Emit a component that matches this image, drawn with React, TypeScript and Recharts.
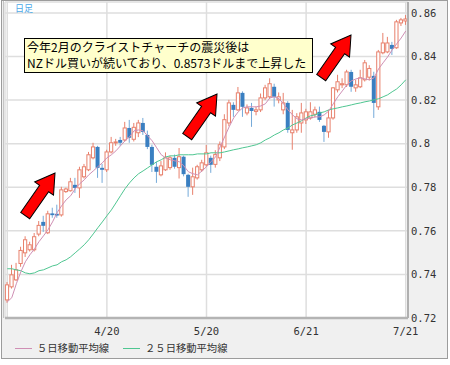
import { Bar, CartesianGrid, ComposedChart, Line, XAxis, YAxis } from "recharts";

// NZD/USD daily candles, 3/21 .. 7/21
const opens = [
  0.7283, 0.7343, 0.7375, 0.745, 0.7499, 0.7513, 0.7513, 0.7585, 0.7641, 0.7591,
  0.768, 0.7678, 0.7673, 0.778, 0.7784, 0.7811, 0.7797, 0.7848, 0.788, 0.7935,
  0.7985, 0.7889, 0.788, 0.7962, 0.8004, 0.8017, 0.8017, 0.8072, 0.802, 0.805,
  0.8095, 0.804, 0.7985, 0.7894, 0.7857, 0.788, 0.789, 0.7935, 0.789, 0.794,
  0.7857, 0.7802, 0.7843, 0.788, 0.7903, 0.7935, 0.7905, 0.7935, 0.7985, 0.8095,
  0.8178, 0.8155, 0.8233, 0.8141, 0.8164, 0.8148, 0.8155, 0.821, 0.8215, 0.8261,
  0.8201, 0.8155, 0.8187, 0.805, 0.8063, 0.8095, 0.8109, 0.8118, 0.8135, 0.8146,
  0.8082, 0.8054, 0.8118, 0.8247, 0.827, 0.827, 0.8329, 0.8256, 0.8261, 0.8293,
  0.8305, 0.8311, 0.8169, 0.8417, 0.8421, 0.8453, 0.844, 0.8554, 0.8563,
];
const highs = [
  0.7365, 0.7444, 0.7453, 0.7527, 0.7575, 0.755, 0.759, 0.7645, 0.7669, 0.7692,
  0.7706, 0.772, 0.7802, 0.7798, 0.7843, 0.7843, 0.7894, 0.7907, 0.7962, 0.8004,
  0.799, 0.7907, 0.7972, 0.8031, 0.8022, 0.8031, 0.81, 0.8109, 0.8095, 0.8109,
  0.8118, 0.806, 0.7995, 0.7917, 0.792, 0.796, 0.7945, 0.795, 0.798, 0.7945,
  0.7862, 0.789, 0.7903, 0.7926, 0.7994, 0.7945, 0.797, 0.801, 0.8135, 0.8201,
  0.819, 0.826, 0.824, 0.818, 0.8187, 0.817, 0.823, 0.827, 0.83, 0.8275,
  0.8235, 0.8233, 0.8195, 0.8155, 0.814, 0.8187, 0.816, 0.819, 0.817, 0.817,
  0.8086, 0.8155, 0.826, 0.8316, 0.83, 0.8339, 0.8339, 0.8293, 0.8339, 0.8384,
  0.836, 0.833, 0.843, 0.8508, 0.849, 0.8467, 0.8568, 0.8577, 0.859,
];
const lows = [
  0.727, 0.7335, 0.737, 0.7435, 0.748, 0.7505, 0.7505, 0.7575, 0.7595, 0.7585,
  0.766, 0.766, 0.7665, 0.7774, 0.778, 0.7774, 0.7751, 0.784, 0.7874, 0.7928,
  0.7843, 0.782, 0.787, 0.7955, 0.799, 0.799, 0.801, 0.8004, 0.801, 0.803,
  0.804, 0.7975, 0.787, 0.782, 0.785, 0.7875, 0.788, 0.7885, 0.784, 0.785,
  0.7756, 0.7765, 0.7835, 0.787, 0.7895, 0.7866, 0.789, 0.792, 0.7975, 0.808,
  0.8123, 0.815, 0.8123, 0.813, 0.8077, 0.813, 0.8145, 0.82, 0.8205, 0.817,
  0.8185, 0.8135, 0.805, 0.7972, 0.805, 0.805, 0.809, 0.811, 0.812, 0.81,
  0.8008, 0.8027, 0.811, 0.8235, 0.8255, 0.826, 0.8238, 0.8238, 0.8255, 0.8285,
  0.829, 0.8118, 0.8155, 0.841, 0.8415, 0.8407, 0.8435, 0.854, 0.8545,
];
const closes = [
  0.7352, 0.7398, 0.7421, 0.751, 0.7559, 0.7536, 0.7573, 0.7625, 0.7623, 0.7678,
  0.7672, 0.767, 0.7788, 0.7792, 0.7825, 0.7797, 0.788, 0.7894, 0.7949, 0.7985,
  0.7889, 0.788, 0.7962, 0.8004, 0.8008, 0.8004, 0.8072, 0.8027, 0.8075, 0.8095,
  0.8054, 0.7985, 0.7903, 0.7871, 0.7898, 0.7935, 0.7935, 0.7894, 0.794, 0.786,
  0.7802, 0.7848, 0.7894, 0.7912, 0.7958, 0.7903, 0.795, 0.7995, 0.811, 0.8187,
  0.8155, 0.8233, 0.8169, 0.8164, 0.815, 0.8155, 0.821, 0.8256, 0.8275, 0.8215,
  0.8215, 0.8187, 0.8063, 0.8063, 0.8123, 0.8141, 0.8146, 0.8146, 0.8155, 0.8109,
  0.8054, 0.8118, 0.8256, 0.8284, 0.8275, 0.8329, 0.8261, 0.827, 0.8302, 0.8371,
  0.8345, 0.8187, 0.8421, 0.8462, 0.8462, 0.8435, 0.8559, 0.8568, 0.8572,
];
const ma5 = [
  0.7274, 0.7293, 0.7357, 0.7412, 0.7458, 0.749, 0.7517, 0.755, 0.7577, 0.7605,
  0.7641, 0.7683, 0.7715, 0.7742, 0.7761, 0.7793, 0.7816, 0.7834, 0.7857, 0.7875,
  0.7894, 0.7912, 0.7935, 0.7949, 0.7967, 0.799, 0.8013, 0.8031, 0.8059, 0.8063,
  0.8059, 0.8036, 0.8013, 0.7981, 0.7949, 0.7935, 0.7926, 0.7921, 0.7917, 0.7898,
  0.7871, 0.7862, 0.7857, 0.7875, 0.7894, 0.7917, 0.7939, 0.7985, 0.8031, 0.8077,
  0.8118, 0.8146, 0.8164, 0.8169, 0.8169, 0.8169, 0.8173, 0.8183, 0.821, 0.8215,
  0.8206, 0.8183, 0.8155, 0.8132, 0.8114, 0.8109, 0.8114, 0.8118, 0.8123, 0.8123,
  0.8132, 0.815, 0.8183, 0.8215, 0.8242, 0.827, 0.8288, 0.8297, 0.8302, 0.8297,
  0.8293, 0.8302, 0.8343, 0.8371, 0.8398, 0.843, 0.8458, 0.8485, 0.8517,
];
const ma25 = [
  0.7426, 0.7426, 0.7421, 0.7417, 0.7407, 0.7403, 0.7407, 0.7417, 0.7421, 0.743,
  0.7439, 0.7444, 0.7458, 0.7467, 0.7481, 0.7499, 0.7517, 0.7536, 0.7559, 0.7586,
  0.7614, 0.7641, 0.7669, 0.7696, 0.7728, 0.7761, 0.7793, 0.782, 0.7843, 0.7862,
  0.7875, 0.7889, 0.7903, 0.7917, 0.7926, 0.7939, 0.7944, 0.7944, 0.7949, 0.7949,
  0.7949, 0.7949, 0.7953, 0.7953, 0.7953, 0.7958, 0.7958, 0.7958, 0.7962, 0.7967,
  0.7972, 0.7976, 0.7981, 0.7985, 0.799, 0.7995, 0.8004, 0.8017, 0.8027, 0.804,
  0.805, 0.8063, 0.8072, 0.8086, 0.8095, 0.8105, 0.8118, 0.8128, 0.8132, 0.8141,
  0.8146, 0.8155, 0.816, 0.8164, 0.8169, 0.8173, 0.8178, 0.8183, 0.8187, 0.8192,
  0.8196, 0.8201, 0.8206, 0.8215, 0.8224, 0.8238, 0.8251, 0.827, 0.8293,
];

const xTicks = [0, 22, 44, 66, 88];
const xTickLabels = ["", "4/20", "5/20", "6/21", "7/21"];
const yTicks = [0.72, 0.74, 0.76, 0.78, 0.8, 0.82, 0.84, 0.86];
const seriesNames = ["５日移動平均線", "２５日移動平均線"];
const seriesColors = ["#cf8fb4", "#4fc691"];

const rows = opens.map((o, i) => ({
  i,
  open: o,
  high: highs[i],
  low: lows[i],
  close: closes[i],
  range: [lows[i], highs[i]],
  ma5: ma5[i],
  ma25: ma25[i],
}));

const UP = "#e8806c";
const DOWN = "#3a7fc1";
const DOWN_WICK = "#75aad9";
const CJK = '"Noto Sans CJK JP", "Noto Sans", sans-serif';
const MONO = '"DejaVu Sans Mono", monospace';

function Candle(props: any) {
  const { x, y, width, height, payload } = props;
  if (x == null || y == null) return null;
  const { open, close, high, low } = payload;
  const top = Math.min(y, y + height);
  const span = Math.abs(height);
  const toY = (v: number) => top + ((high - v) / (high - low || 1)) * span;
  const cx = x + width / 2;
  const up = close >= open;
  const yo = toY(open);
  const yc = toY(close);
  const bTop = Math.min(yo, yc);
  const bH = Math.max(Math.abs(yo - yc), 1);
  if (up) {
    return (
      <g>
        <line x1={cx} x2={cx} y1={top} y2={top + span} stroke={UP} strokeWidth={1} />
        <rect x={cx - 1.6} y={bTop} width={3.2} height={bH} fill="#fff" stroke={UP} strokeWidth={1} />
      </g>
    );
  }
  return (
    <g>
      <line x1={cx} x2={cx} y1={top} y2={top + span} stroke={DOWN_WICK} strokeWidth={1} />
      <rect x={cx - 2} y={bTop} width={4} height={bH} fill={DOWN} />
    </g>
  );
}

const arrowTips = [
  { x: 55, y: 173 },
  { x: 217, y: 94 },
  { x: 351, y: 35 },
];

function Arrow({ x, y }: { x: number; y: number }) {
  const L = 52, hl = 19, h = 11.5, w = 5.5;
  const pts = [
    [0, -w], [L - hl, -w], [L - hl, -h], [L, 0], [L - hl, h], [L - hl, w], [0, w],
  ].map((p) => p.join(",")).join(" ");
  return (
    <polygon
      points={pts}
      transform={`translate(${x},${y}) rotate(-55) translate(${-L},0)`}
      fill="#ff0000"
      stroke="#000"
      strokeWidth={1}
      strokeLinejoin="miter"
    />
  );
}

export default function App() {
  return (
    <div style={{ position: "fixed", left: 0, top: 0, width: 450, height: 365, background: "#fff", overflow: "hidden" }}>
      <div
        style={{
          position: "absolute", left: 1, top: 0, width: 447, height: 359,
          boxSizing: "border-box", border: "1px solid #9c9c9c", background: "#f0f0f0",
        }}
      />
      <div
        style={{
          position: "absolute", left: 3, top: 1, width: 405, height: 317,
          boxSizing: "border-box", borderLeft: "1px solid #c4c4c4", background: "#fff",
        }}
      />
      <div style={{ position: "absolute", left: 0, top: 0 }}>
        <ComposedChart width={450} height={365} data={rows} margin={{ top: 2, right: 2, bottom: 27, left: 5 }}>
          <CartesianGrid stroke="#dedede" strokeWidth={1.5} />
          <XAxis
            dataKey="i"
            type="category"
            ticks={xTicks}
            interval={0}
            tickFormatter={(v: number) => xTickLabels[xTicks.indexOf(v)] ?? ""}
            tickLine={false}
            tickSize={0}
            tickMargin={10}
            axisLine={{ stroke: "#b4b4b4", strokeWidth: 2.5 }}
            tick={{ fontFamily: MONO, fontSize: 10.5, fill: "#333" }}
            height={20}
          />
          <YAxis
            orientation="right"
            type="number"
            domain={[0.72, 0.865]}
            allowDataOverflow
            ticks={yTicks}
            tickFormatter={(v: number) => String(Number(v.toFixed(2)))}
            tickLine={false}
            tickSize={0}
            tickMargin={3}
            axisLine={{ stroke: "#b0b0b0", strokeWidth: 2 }}
            tick={{ fontFamily: MONO, fontSize: 10.5, fill: "#333" }}
            width={40}
          />
          <Bar dataKey="range" barSize={4} shape={<Candle />} isAnimationActive={false} />
          <Line dataKey="ma25" name={seriesNames[1]} type="linear" stroke={seriesColors[1]} strokeWidth={1} dot={false} activeDot={false} isAnimationActive={false} />
          <Line dataKey="ma5" name={seriesNames[0]} type="linear" stroke={seriesColors[0]} strokeWidth={1} dot={false} activeDot={false} isAnimationActive={false} />
        </ComposedChart>
      </div>
      <div style={{ position: "absolute", left: 15, top: 3, fontFamily: CJK, fontSize: 9, color: "#4aa8e8", lineHeight: "12px" }}>
        日足
      </div>
      <div
        style={{
          position: "absolute", left: 24, top: 38, width: 289, height: 35,
          boxSizing: "border-box", border: "1px solid #000", background: "#ffffcc",
          fontFamily: CJK, fontSize: 12, lineHeight: "16px", color: "#000",
          padding: "0 0 0 2px", whiteSpace: "nowrap",
        }}
      >
        <div>今年2月のクライストチャーチの震災後は</div>
        <div>NZドル買いが続いており、0.8573ドルまで上昇した</div>
      </div>
      <svg width={450} height={365} style={{ position: "absolute", left: 0, top: 0, pointerEvents: "none" }}>
        {arrowTips.map((t, k) => (
          <Arrow key={k} x={t.x} y={t.y} />
        ))}
      </svg>
      <div
        style={{
          position: "absolute", left: 15, top: 341, display: "flex", alignItems: "center",
          fontFamily: CJK, fontSize: 10.3, color: "#333", lineHeight: "14px", whiteSpace: "nowrap",
        }}
      >
        {seriesNames.map((n, k) => (
          <span key={n} style={{ display: "inline-flex", alignItems: "center", marginRight: 14 }}>
            <span style={{ display: "inline-block", width: 17, borderTop: `1px solid ${seriesColors[k]}`, marginRight: 5 }} />
            {n}
          </span>
        ))}
      </div>
    </div>
  );
}
